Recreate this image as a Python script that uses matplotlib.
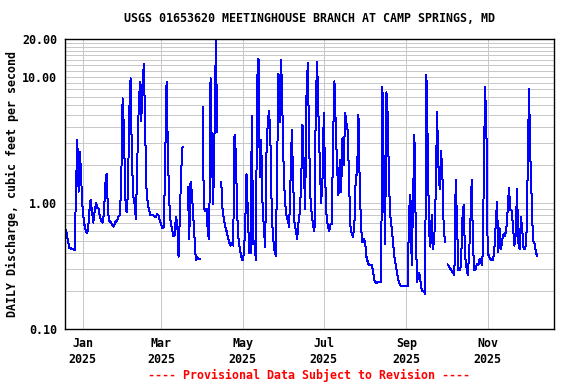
import numpy as np
import pandas as pd
import matplotlib
matplotlib.use("Agg")
import matplotlib.pyplot as plt
from matplotlib.ticker import FixedLocator, NullFormatter, NullLocator

nan = np.nan
start_date = "2024-12-19"
discharge = [
    0.62, 0.58, 0.50, 0.44, 0.44, 0.43, 0.43, 0.42, 1.23, 3.17,
    1.23, 2.56, 1.48, 0.90, 0.70, 0.63, 0.58, 0.60, 0.85, 1.06,
    0.87, 0.70, 0.85, 1.00, 0.92, 0.90, 0.78, 0.72, 0.70, 0.82,
    1.40, 1.72, 0.87, 0.72, 0.71, 0.68, 0.65, 0.68, 0.72, 0.73,
    0.79, 0.80, 1.50, 6.80, 3.90, 1.10, 0.85, 1.20, 5.30, 9.80,
    2.20, 1.15, 0.98, 0.75, 2.10, 5.30, 9.20, 4.50, 9.20, 12.7,
    3.50, 1.23, 0.98, 0.87, 0.80, 0.80, 0.80, 0.78, 0.78, 0.82,
    0.80, 0.72, 0.67, 0.63, 0.65, 2.30, 9.20, 2.50, 1.02, 0.72,
    0.63, 0.55, 0.55, 0.78, 0.70, 0.375, 0.80, 1.80, 2.80, nan,
    nan, nan, 1.35, 0.52, 1.48, 1.20, 0.80, 0.52, 0.35, 0.375,
    0.36, 0.36, nan, 5.80, 0.90, 0.87, 0.90, 0.57, 0.52, 9.80,
    2.50, 0.98, 3.70, 19.3, 3.70, nan, nan, 1.48, 0.90, 0.75,
    0.65, 0.60, 0.54, 0.49, 0.46, 0.48, 0.46, 3.50, 2.50, 0.80,
    0.52, 0.43, 0.38, 0.35, 0.40, 0.65, 1.70, 0.85, 0.40, 0.40,
    4.90, 0.47, 0.50, 0.35, 9.50, 14.0, 1.60, 3.20, 1.02, 0.63,
    0.45, 2.50, 4.50, 5.40, 2.90, 0.80, 0.52, 0.42, 0.38, 2.00,
    10.7, 4.40, 13.7, 5.00, 1.63, 1.00, 0.80, 0.72, 0.65, 1.50,
    3.80, 1.50, 0.70, 0.60, 0.52, 0.70, 0.85, 1.40, 4.20, 1.90,
    0.90, 7.10, 12.9, 3.00, 1.10, 0.80, 0.66, 0.60, 6.40, 13.3,
    5.00, 2.10, 1.00, 1.50, 5.20, 1.60, 0.82, 0.66, 0.60, 0.68,
    0.68, 3.30, 9.30, 4.00, 1.90, 1.16, 2.20, 1.22, 3.27, 2.00,
    5.20, 4.30, 3.70, 1.40, 0.66, 0.57, 0.54, 0.70, 1.63, 1.70,
    5.00, 1.35, 0.63, 0.49, 0.52, 0.49, 0.375, 0.34, 0.32, 0.32,
    0.32, 0.285, 0.245, 0.23, 0.235, 0.235, 0.235, 0.235, 8.40, 1.80,
    0.47, 7.60, 4.90, 1.35, 0.78, 0.63, 0.49, 0.375, 0.32, 0.28,
    0.245, 0.225, 0.22, 0.22, 0.22, 0.22, 0.22, 0.22, 0.88, 1.16,
    0.32, 1.10, 3.50, 0.63, 0.235, 0.28, 0.27, 0.217, 0.20, 0.20,
    0.19, 10.5, 2.90, 0.60, 0.45, 0.80, 0.43, 0.55, 1.20, 5.30,
    2.00, 1.30, 2.60, 1.70, 0.63, 0.49, nan, 0.325, 0.315, 0.30,
    0.29, 0.277, 0.27, 1.52, 0.70, 0.295, 0.295, 0.32, 0.75, 0.97,
    0.38, 0.315, 0.27, 0.38, 0.70, 1.52, 0.45, 0.295, 0.30, 0.33,
    0.32, 0.36, 0.34, 0.32, 1.30, 8.40, 4.30, 0.40, 0.38, 0.36,
    0.35, 0.35, 0.43, 0.66, 1.02, 0.41, 0.63, 0.43, 0.52, 0.57,
    0.55, 0.63, 0.88, 1.33, 0.88, 0.87, 0.66, 0.46, 0.55, 1.30,
    0.49, 0.43, 0.78, 0.60, 0.43, 0.43, 0.49, 1.74, 8.10, 2.40,
    1.06, 0.50, 0.49, 0.42, 0.38,
]
dates = pd.date_range(start_date, periods=len(discharge), freq="D")

x_ticks = ["2025-01-01", "2025-03-01", "2025-05-01", "2025-07-01", "2025-09-01", "2025-11-01"]
x_tick_labels = ["Jan\n2025", "Mar\n2025", "May\n2025", "Jul\n2025", "Sep\n2025", "Nov\n2025"]
y_ticks = [0.1, 1.0, 10.0, 20.0]
y_tick_labels = ["0.10", "1.00", "10.00", "20.00"]
y_grid = [0.2, 0.3, 0.4, 0.5, 0.6, 0.7, 0.8, 0.9, 1, 2, 3, 4, 5, 6, 7, 8, 9, 10,
          11.25, 12.5, 13.75, 15, 16.25, 17.5, 18.75]

title = "USGS 01653620 MEETINGHOUSE BRANCH AT CAMP SPRINGS, MD"
ylabel = "DAILY Discharge, cubic feet per second"
footer = "---- Provisional Data Subject to Revision ----"

font = {"family": "DejaVu Sans Mono", "weight": "bold", "size": 8.4}

fig = plt.figure(figsize=(5.76, 3.84), dpi=100)
ax = fig.add_axes([65.3 / 576, 1 - 329 / 384, (554.3 - 65.3) / 576, (329 - 39.3) / 384])

ax.set_yscale("log")
ax.set_ylim(0.1, 20)
ax.set_xlim(pd.Timestamp("2024-12-19"), pd.Timestamp("2025-12-21"))

grid_c = "#c8c8c8"
px = 72 / 100  # one pixel in points
for v in y_grid:
    ax.axhline(v, color=grid_c, lw=px, zorder=1, antialiased=False)
for t in x_ticks:
    ax.axvline(pd.Timestamp(t), color=grid_c, lw=px, zorder=1, antialiased=False)

ax.plot(dates, discharge, color="#0000ff", lw=px, zorder=3, antialiased=False)

ax.yaxis.set_major_locator(FixedLocator(y_ticks))
ax.set_yticklabels(y_tick_labels, fontdict=font)
ax.yaxis.set_minor_locator(NullLocator())
ax.yaxis.set_minor_formatter(NullFormatter())
ax.set_xticks([pd.Timestamp(t) for t in x_ticks])
ax.set_xticklabels(x_tick_labels, fontdict=font, linespacing=1.25)
ax.xaxis.set_minor_locator(NullLocator())
ax.tick_params(axis="both", which="both", length=0)
ax.tick_params(axis="y", pad=6)
ax.tick_params(axis="x", pad=6)

for s in ax.spines.values():
    s.set_linewidth(1.0)
    s.set_color("black")
    s.set_zorder(5)

fig.text(309.8 / 576, 1 - 19 / 384, title, ha="center", va="center", **font)
fig.text(12 / 576, 1 - 184 / 384, ylabel, ha="center", va="center", rotation=90, **font)
fig.text(309 / 576, 1 - 375 / 384, footer, ha="center", va="center", color="#ff0000", **font)

fig.savefig("out.png", dpi=100)
